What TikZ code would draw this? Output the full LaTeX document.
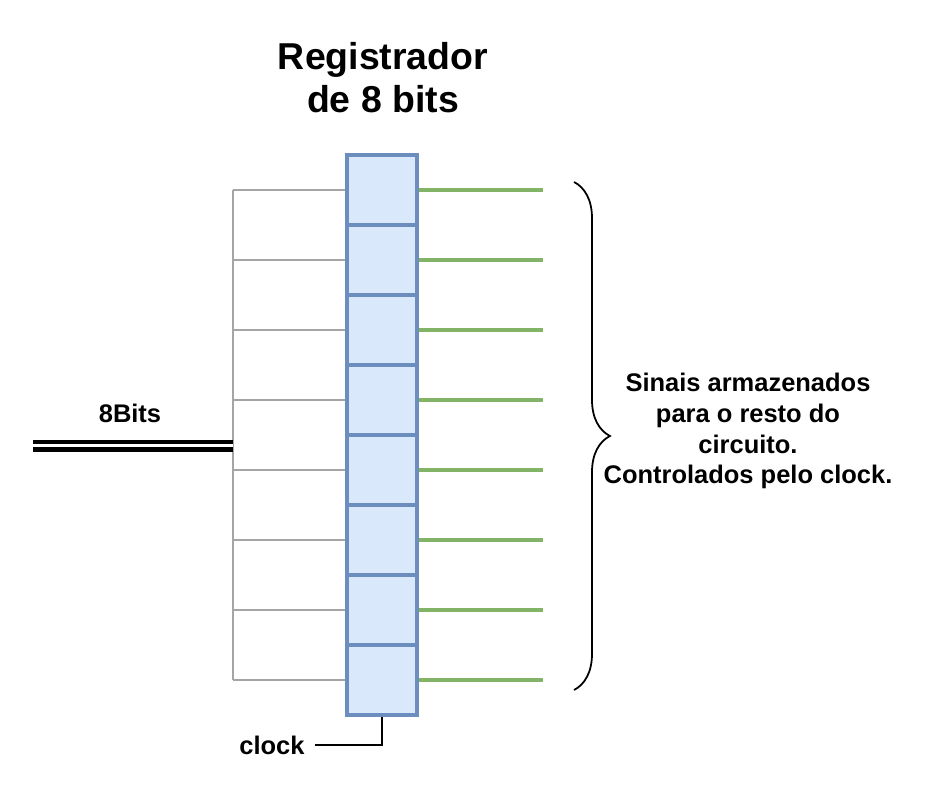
\documentclass[tikz,border=0pt]{standalone}
\usepackage{fontspec}
\setmainfont{Liberation Sans}
\usetikzlibrary{decorations.pathreplacing,calc}
\definecolor{regBlue}{HTML}{6C8EBF}
\definecolor{regFill}{HTML}{DAE8FC}
\definecolor{outGreen}{HTML}{82B366}
\definecolor{wireGray}{RGB}{165,165,165}
\tikzset{
  cell/.style={draw=regBlue, line width=0.08cm, fill=regFill, minimum width=1.4cm, minimum height=1.4cm, inner sep=0pt},
  outwire/.style={draw=outGreen, line width=0.065cm},
  inwire/.style={draw=wireGray, line width=0.6pt},
  bus/.style={double, double distance=0.06cm, line width=0.085cm},
  clockline/.style={line width=1.1pt},
  brace/.style={decorate, decoration={brace, amplitude=0.72cm}, line width=1pt},
  label/.style={font=\bfseries\fontsize{14.5}{17.6}\selectfont, align=center},
  title/.style={font=\bfseries\fontsize{21.3}{24.4}\selectfont, align=center}
}

\begin{document}
\begin{tikzpicture}[x=0.02cm, y=-0.02cm]
  \useasboundingbox (0,0) rectangle (940,803);

  \node[title] (title) at (383,78) {Registrador\\de 8 bits};

  % register cells and their wires
  \foreach \i in {1,...,8} {
    \node[cell] (cell\i) at (382,{120+70*\i}) {};
    \coordinate (in\i) at (233,{120+70*\i});
    \coordinate (out\i) at (543,{120+70*\i});
  }
  \foreach \i in {1,...,8} {
    \draw[inwire] (in\i) -- (cell\i.west);
    \draw[outwire] (cell\i.east) -- (out\i);
  }
  \draw[inwire] (in1) -- (in8);

  % input bus
  \coordinate (busL) at (33,446);
  \coordinate (busR) at (233,446);
  \draw[bus] (busL) -- (busR);
  \node[label] (buslbl) at (130,413) {8Bits};

  % clock
  \node[label] (clocklbl) at (272,745) {clock};
  \draw[clockline] (clocklbl.east) ++(4,0) -| (cell8.south);

  % outputs
  \coordinate (brtop) at (574,182);
  \coordinate (brbot) at (574,690);
  \draw[brace] (brtop) -- (brbot);
  \node[label] (outlbl) at (748,431) {Sinais armazenados\\para o resto do\\circuito.\\Controlados pelo clock.};
\end{tikzpicture}
\end{document}
